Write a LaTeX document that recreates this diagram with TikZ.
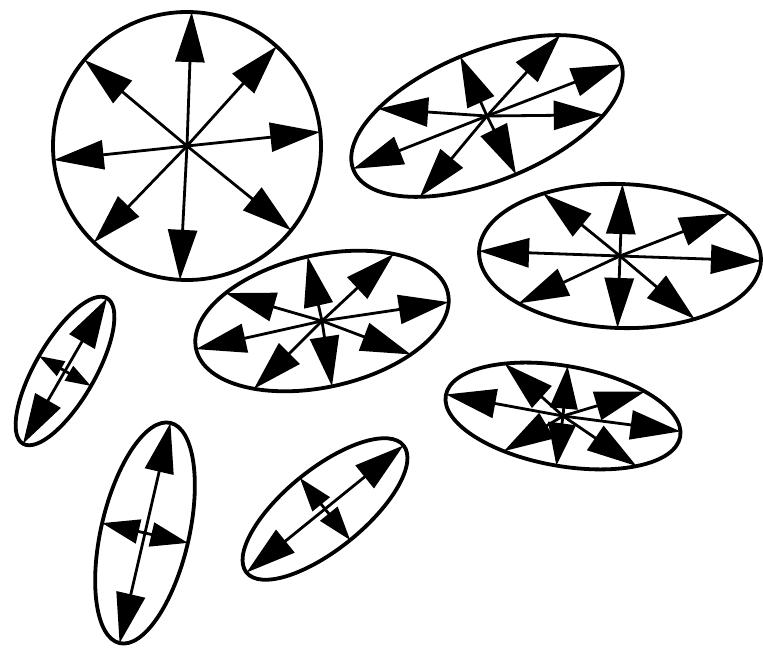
\documentclass[tikz,border=0pt]{standalone}
\usetikzlibrary{arrows.meta}
\tikzset{
  ellout/.style={line width=3.8pt},
  shaft/.style={line width=2.8pt},
}
% #1,#2 centre (y up), #3 a, #4 b, #5 rotation, #6 list of parameter angles
\newcommand{\strainell}[6]{%
  \begin{scope}[shift={(#1,#2)}, rotate=#5]
    \draw[ellout] (0,0) ellipse [x radius=#3, y radius=#4];
    \foreach \t in {#6} {
      \pgfmathsetmacro\px{#3*cos(\t)}
      \pgfmathsetmacro\py{#4*sin(\t)}
      \pgfmathsetmacro\len{veclen(\px,\py)}
      \pgfmathsetmacro\hl{min(50,0.85*\len)}
      \pgfmathsetmacro\hw{min(29,0.55*\len)}
      \draw[shaft, -{Triangle[length=\hl pt, width=\hw pt]}] (0,0) -- (\px,\py);
    }
  \end{scope}}
\begin{document}
\begin{tikzpicture}[x=1pt,y=1pt]
  \useasboundingbox (0,0) rectangle (763,648);
  % large circle
  \strainell{187}{502}{134}{134}{0}{6,48,88,140,186,226,267,321}
  % upper right ellipse
  \strainell{487}{532}{144}{65}{22}{-2,47,91,133,179,230,272,319}
  % right ellipse
  \strainell{620}{392}{141}{72}{-2}{0,40,90,124,180,225,270,303}
  % middle ellipse
  \strainell{322}{327}{129}{66}{12.6}{-8,49,90,133,180,231,268,308}
  % lower right ellipse
  \strainell{563}{232}{119}{50}{-10}{6,50,92,124,179,244,271,313}
  % small left ellipse
  \strainell{65}{277}{84}{30}{60}{0,90,180,270}
  % tall lower-left ellipse
  \strainell{145}{115}{113}{44}{77}{0,90,180,270}
  % lower middle ellipse
  \strainell{325}{139}{101}{40}{39}{0,90,180,270}
\end{tikzpicture}
\end{document}
